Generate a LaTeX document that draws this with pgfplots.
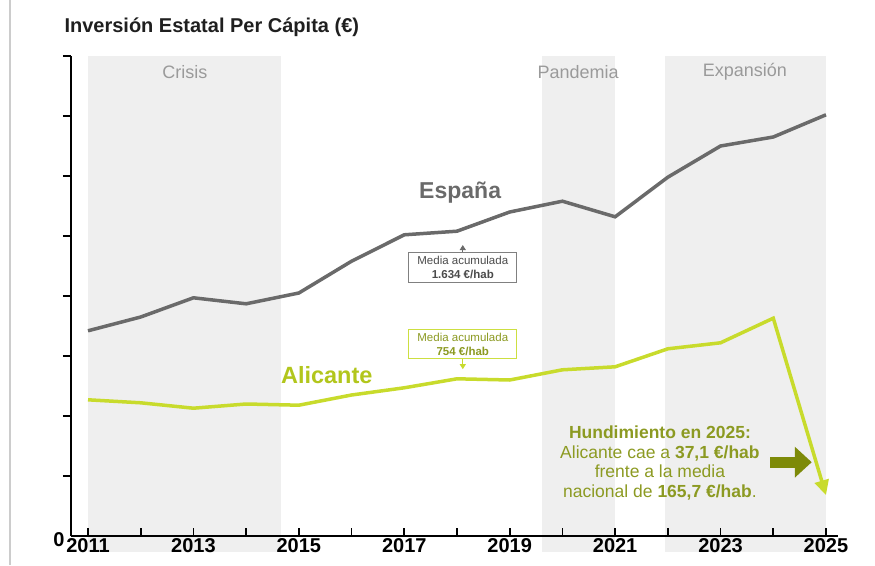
\documentclass[border=0pt]{standalone}
\usepackage{fontspec}
\setmainfont{Liberation Sans}
\usepackage{pgfplots}
\pgfplotsset{compat=1.18}
\usetikzlibrary{arrows.meta}

\definecolor{band}{HTML}{EFEFEF}
\definecolor{bandtext}{HTML}{9A9A9A}
\definecolor{spain}{HTML}{6A6A6A}
\definecolor{alic}{HTML}{C8DB2C}
\definecolor{alictext}{HTML}{B2C61C}
\definecolor{olivetext}{HTML}{8C9A22}
\definecolor{bigarrow}{HTML}{7D8A08}

\begin{document}
\begin{tikzpicture}
\useasboundingbox (-71pt,-29pt) rectangle (804pt,536pt);
\draw[black!20, line width=1.2pt] (-61pt,-29pt) -- (-61pt,536pt);
\node[anchor=west, font=\bfseries\fontsize{20}{20}\selectfont, text=black!88] at (-10pt,509pt) {Inversión Estatal Per Cápita (€)};

% x = year - 2011
\begin{axis}[
  scale only axis, width=767pt, height=480pt,
  xmin=-0.3225, xmax=14.228, ymin=0, ymax=8,
  axis lines=left, axis line style={-, line width=2pt, black},
  axis on top, clip=false,
  xtick={0,2,...,14}, xticklabels={2011,2013,2015,2017,2019,2021,2023,2025},
  minor xtick={1,3,...,13},
  ytick={1,...,8}, yticklabels={},
  extra y ticks={0}, extra y tick labels={0},
  extra y tick style={major tick length=0pt, yticklabel style={yshift=-4pt, xshift=-3pt}},
  tick align=inside, major tick length=8pt, minor tick length=8pt,
  every tick/.style={black, line width=1.6pt},
  ytick style={xshift=-8pt},
  ticklabel style={font=\bfseries\fontsize{20}{20}\selectfont},
  xticklabel style={yshift=1pt},
]
% shaded periods
\addplot[fill=band, draw=none] coordinates {(0,-0.27) (3.66,-0.27) (3.66,8) (0,8)} -- cycle;
\addplot[fill=band, draw=none] coordinates {(8.61,-0.27) (10,-0.27) (10,8) (8.61,8)} -- cycle;
\addplot[fill=band, draw=none] coordinates {(10.95,-0.27) (14,-0.27) (14,8) (10.95,8)} -- cycle;

\node[text=bandtext, font=\fontsize{18}{18}\selectfont] at (axis cs:1.84,7.73) {Crisis};
\node[text=bandtext, font=\fontsize{18}{18}\selectfont] at (axis cs:9.30,7.73) {Pandemia};
\node[text=bandtext, font=\fontsize{18}{18}\selectfont] at (axis cs:12.46,7.73) {Expansión};

% España
\addplot[spain, line width=3.5pt] coordinates {
  (0,3.42) (1,3.65) (2,3.97) (3,3.87) (4,4.05)
  (5,4.58) (6,5.02) (7,5.08) (8,5.40) (9,5.58)
  (10,5.32) (11,5.98) (12,6.50) (13,6.65) (14,7.02)
};
% Alicante
\addplot[alic, line width=3.5pt, -{Triangle[length=15pt,width=14pt]}] coordinates {
  (0,2.27) (1,2.22) (2,2.13) (3,2.20) (4,2.18)
  (5,2.35) (6,2.47) (7,2.62) (8,2.60) (9,2.77)
  (10,2.82) (11,3.12) (12,3.22) (13,3.63) (14,0.68)
};

\node[text=spain, font=\bfseries\fontsize{23}{23}\selectfont] at (axis cs:7.06,5.72) {España};
\node[text=alictext, font=\bfseries\fontsize{23.5}{23.5}\selectfont] at (axis cs:4.53,2.68) {Alicante};

\node[draw=spain!85, fill=white, line width=0.8pt, align=center, text=black!70,
      font=\fontsize{11.5}{14}\selectfont, inner sep=3.5pt, minimum width=108pt] (b1)
      at (axis cs:7.11,4.48) {Media acumulada\\\textbf{1.634 €/hab}};
\draw[spain, line width=1pt, -{Triangle[length=5pt,width=6pt]}] (b1.north) -- ++(0pt,7pt);

\node[draw=alic!90, fill=white, line width=0.8pt, align=center, text=olivetext,
      font=\fontsize{11.5}{14}\selectfont, inner sep=3.5pt, minimum width=108pt] (b2)
      at (axis cs:7.11,3.20) {Media acumulada\\\textbf{754 €/hab}};
\draw[alic, line width=1pt, -{Triangle[length=5pt,width=6pt]}] (b2.south) -- ++(0pt,-10pt);

\node[align=center, text=olivetext, font=\fontsize{17.5}{19.5}\selectfont]
  at (axis cs:10.85,1.22) {\textbf{Hundimiento en 2025:}\\Alicante cae a \textbf{37,1 €/hab}\\frente a la media\\nacional de \textbf{165,7 €/hab}.};
\draw[bigarrow, line width=11pt, -{Triangle[length=17pt,width=30pt]}]
  (axis cs:12.94,1.23) -- (axis cs:13.73,1.23);
\end{axis}
\end{tikzpicture}
\end{document}
